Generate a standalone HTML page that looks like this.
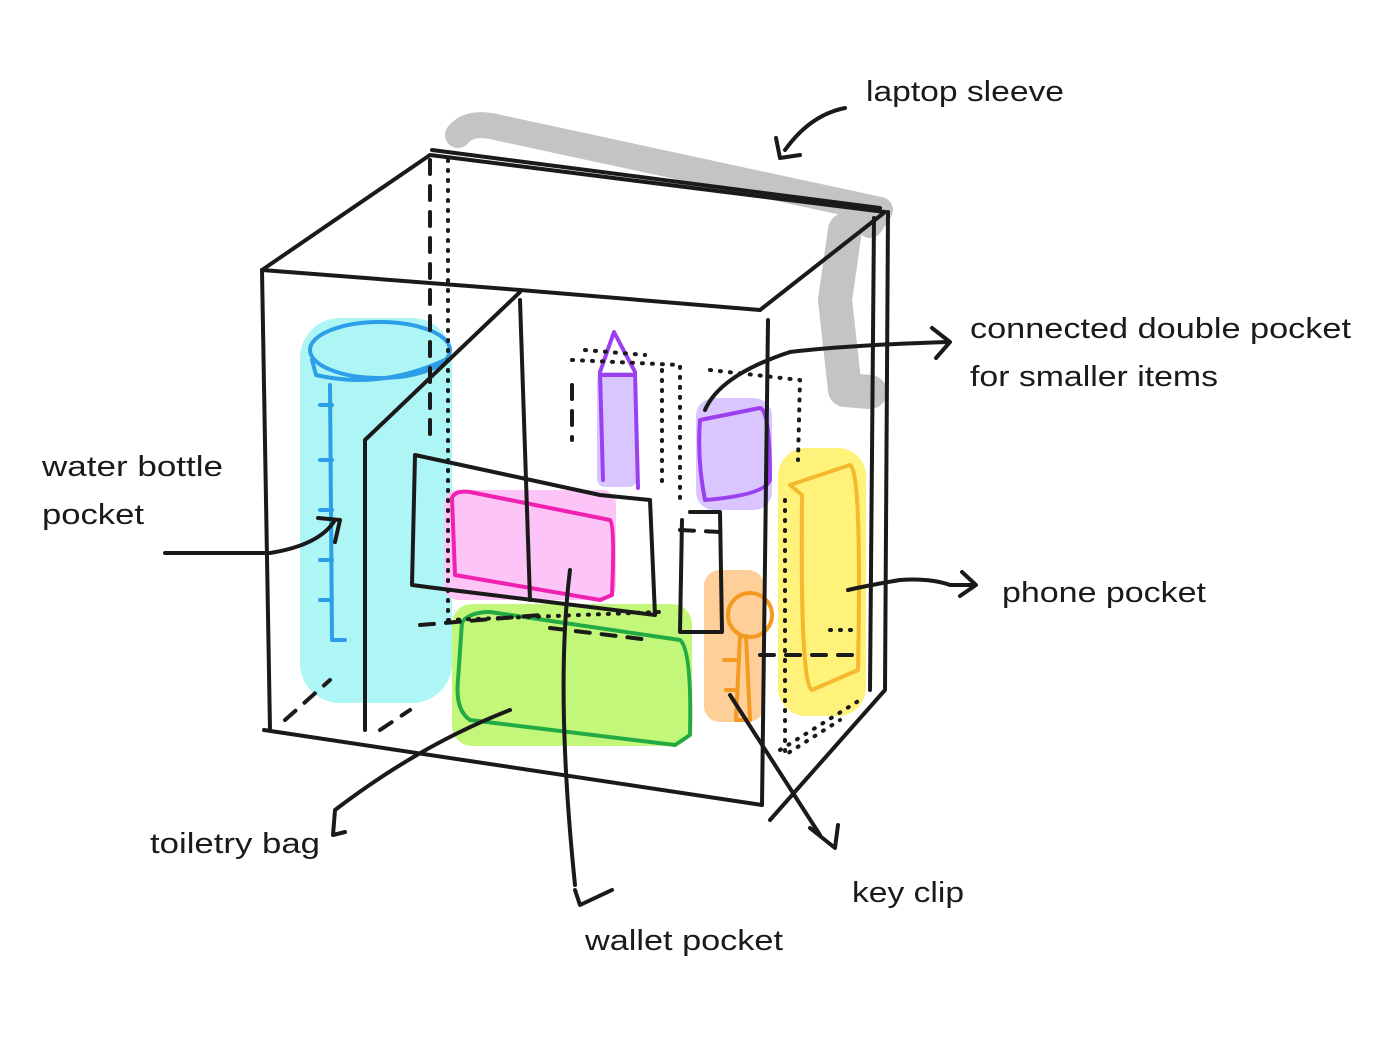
<!DOCTYPE html>
<html><head><meta charset="utf-8"><style>
html,body{margin:0;padding:0;background:#fff;}
svg{display:block}
text{font-family:"Liberation Sans",sans-serif;font-size:29px;fill:#1a1a1a}
</style></head><body>
<svg width="1373" height="1049" viewBox="0 0 1373 1049" xmlns="http://www.w3.org/2000/svg">
<g stroke-linecap="round" stroke-linejoin="round" fill="none">
<path d="M458 135 Q470 120 500 128 L880 210 L870 225" stroke="#c4c4c4" stroke-width="26"/>
<path d="M845 230 L835 300 L845 390 L870 392" stroke="#c4c4c4" stroke-width="34"/>
<rect x="300" y="318" width="152" height="385" rx="40" fill="#aef5f5" stroke="none"/>
<rect x="444" y="490" width="172" height="110" rx="14" fill="#fdc4f7" stroke="none"/>
<rect x="452" y="604" width="240" height="142" rx="20" fill="#c3f77a" stroke="none"/>
<rect x="597" y="372" width="40" height="115" rx="8" fill="#d9c6ff" stroke="none"/>
<rect x="696" y="398" width="76" height="112" rx="18" fill="#d9c6ff" stroke="none"/>
<rect x="778" y="448" width="88" height="268" rx="28" fill="#fff27a" stroke="none"/>
<rect x="704" y="570" width="60" height="152" rx="16" fill="#ffcf9a" stroke="none"/>
<g stroke="#2d9ee8" stroke-width="4">
<ellipse cx="380" cy="350" rx="70" ry="28"/>
<path d="M312 360 L316 375 Q380 390 445 360"/>
<path d="M330 385 L332 640 L345 640"/>
<path d="M320 405 L332 405 M320 460 L332 460 M320 510 L332 510 M320 560 L332 560 M320 600 L332 600"/>
</g>
<path d="M452 498 Q455 490 470 492 L610 520 Q615 525 612 595 L600 600 L455 575 Z" stroke="#f020b0" stroke-width="4"/>
<path d="M462 622 Q470 612 490 612 L680 640 Q692 650 690 735 L675 745 L470 720 Q455 710 458 680 Z" stroke="#22aa44" stroke-width="4"/>
<path d="M600 372 L614 332 L635 372 L638 488 M600 372 L603 480 M600 375 L635 375" stroke="#9b40f0" stroke-width="4"/>
<path d="M700 420 L760 408 Q770 410 770 480 Q765 495 705 500 Q697 460 700 420 Z" stroke="#9b40f0" stroke-width="4"/>
<path d="M790 485 L850 465 Q862 470 858 670 L812 690 Q800 685 802 495 Z" stroke="#f5b930" stroke-width="4"/>
<g stroke="#f59a20" stroke-width="4">
<circle cx="750" cy="615" r="22"/>
<path d="M740 636 L736 720 L750 720 L746 636"/>
<path d="M736 660 L724 660 M736 690 L726 690"/>
</g>
<g stroke="#1a1a1a" stroke-width="4">
<path d="M262 270 L520 290 L760 310"/>
<path d="M262 270 L430 155 L885 212"/>
<path d="M432 150 L880 208"/>
<path d="M760 310 L885 212"/>
<path d="M262 270 L270 730"/>
<path d="M264 730 L762 805"/>
<path d="M768 320 L762 805"/>
<path d="M874 218 L870 690 M888 212 L885 690 L770 820"/>
<path d="M520 292 L365 440 L365 730"/>
<path d="M520 300 L530 600"/>
<path d="M415 455 L600 495 L650 500 L655 615 L435 588 L412 585 Z"/>
<path d="M690 512 L720 512 L722 632 L680 632 L682 520"/>
<path d="M570 570 Q555 690 575 885"/>
<path d="M575 890 L580 905 L612 890"/>
<path d="M730 695 L820 835 M810 828 L835 848 L838 825"/>
<path d="M510 710 Q420 745 335 810 L333 835 L345 832"/>
<path d="M165 553 L270 553 Q320 545 335 520 M318 518 L340 520 L335 542"/>
<path d="M848 590 Q870 585 900 580 Q930 578 950 585 L975 585 M962 572 L976 585 L960 596"/>
<path d="M705 410 Q720 375 790 352 Q850 345 948 342 M932 328 L950 342 L936 358"/>
<path d="M845 108 Q810 115 785 150 M776 138 L780 158 L800 155"/>
</g>
<g stroke="#1a1a1a" stroke-width="4" stroke-dasharray="14 12">
<path d="M430 160 L430 440"/>
<path d="M285 720 L330 680 M420 625 L540 615 M550 628 L650 640"/>
<path d="M380 730 L410 710 M680 530 L720 532 M760 655 L860 655"/>
<path d="M572 385 L572 440"/>
</g>
<g stroke="#1a1a1a" stroke-width="4" stroke-dasharray="1 9">
<path d="M448 160 L448 620 L660 612"/>
<path d="M572 360 L680 365 L680 500 M662 370 L662 490 M585 350 L645 355"/>
<path d="M710 370 L800 380 L798 460 M785 500 L785 755 L840 720 M780 750 L860 700"/>
<path d="M830 630 L860 630"/>
</g>
</g>
<text x="866" y="101" textLength="198" lengthAdjust="spacingAndGlyphs">laptop sleeve</text>
<text x="970" y="338" textLength="381" lengthAdjust="spacingAndGlyphs">connected double pocket</text>
<text x="970" y="386" textLength="248" lengthAdjust="spacingAndGlyphs">for smaller items</text>
<text x="42" y="476" textLength="181" lengthAdjust="spacingAndGlyphs">water bottle</text>
<text x="42" y="524" textLength="102" lengthAdjust="spacingAndGlyphs">pocket</text>
<text x="1002" y="602" textLength="204" lengthAdjust="spacingAndGlyphs">phone pocket</text>
<text x="150" y="853" textLength="170" lengthAdjust="spacingAndGlyphs">toiletry bag</text>
<text x="852" y="902" textLength="112" lengthAdjust="spacingAndGlyphs">key clip</text>
<text x="585" y="950" textLength="198" lengthAdjust="spacingAndGlyphs">wallet pocket</text>
</svg>
</body></html>
